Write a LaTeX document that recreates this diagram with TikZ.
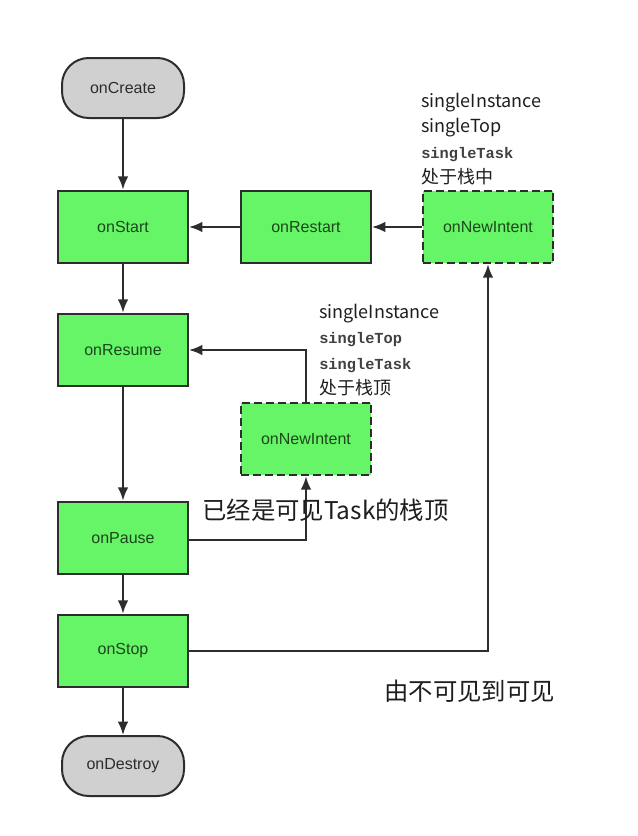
\documentclass[tikz,border=0pt]{standalone}
\usepackage{fontspec}
\setmainfont{Liberation Sans}
\newfontfamily\cjk{Noto Sans CJK SC}
\newfontfamily\monob{Liberation Mono}[BoldFont={* Bold}]
\usetikzlibrary{arrows.meta}
\definecolor{gfill}{RGB}{102,245,102}
\definecolor{gtext}{RGB}{28,70,28}
\definecolor{grayfill}{RGB}{208,208,208}
\definecolor{edge}{RGB}{45,45,45}
\definecolor{lbl}{RGB}{30,30,30}
\tikzset{
  box/.style={draw=edge, line width=1.5pt, fill=gfill, minimum width=97.5pt, minimum height=54.5pt, inner sep=0pt, text=gtext, font=\fontsize{12}{14}\selectfont},
  dbox/.style={box, dash pattern=on 6pt off 3pt},
  term/.style={draw=edge, line width=1.5pt, fill=grayfill, rounded corners=20pt, minimum width=91.5pt, minimum height=45pt, inner sep=0pt, text=edge, font=\fontsize{12}{14}\selectfont},
  conn/.style={draw=edge, line width=1.5pt, -{Latex[length=10pt,width=8pt]}},
  note/.style={align=left, inner sep=0pt, anchor=north west, text=lbl, font=\cjk\fontsize{13.5}{19}\selectfont},
  big/.style={inner sep=0pt, anchor=west, text=lbl, font=\cjk\fontsize{18.3}{20}\selectfont}
}
\newcommand{\mb}[1]{{\monob\bfseries\fontsize{11.5}{12}\selectfont\color{lbl!85}#1}}
\begin{document}
\begin{tikzpicture}[x=0.75pt,y=-0.75pt]
\useasboundingbox (0,0) rectangle (637,836);
\node[term] (create) at (123,88) {onCreate};
\node[box] (start) at (123,227) {onStart};
\node[box] (restart) at (306,227) {onRestart};
\node[dbox] (ni1) at (488,227) {onNewIntent};
\node[box] (resume) at (123,350) {onResume};
\node[dbox] (ni2) at (306,439) {onNewIntent};
\node[box] (pause) at (123,538) {onPause};
\node[box] (stop) at (123,651) {onStop};
\node[term] (destroy) at (123,766) {onDestroy};

\coordinate (c1) at (306,350);
\coordinate (c2) at (306,540);
\coordinate (c3) at (488,651);

\draw[conn] (create) -- (start);
\draw[conn] (start) -- (resume);
\draw[conn] (resume) -- (pause);
\draw[conn] (pause) -- (stop);
\draw[conn] (stop) -- (destroy);
\draw[conn] (restart) -- (start);
\draw[conn] (ni1) -- (restart);
\draw[conn] (ni2.north) -- (c1) -- (resume.east);
\draw[conn] (pause.east |- c2) -- (c2) -- (ni2.south);
\draw[conn] (stop.east) -- (c3) -- (ni1.south);

\node[note] (n1) at (421,93) {singleInstance\\ singleTop\\ \mb{singleTask}\\ 处于栈中};
\node[note] (n2) at (319,304) {singleInstance\\ \mb{singleTop}\\ \mb{singleTask}\\ 处于栈顶};
\node[big] (t1) at (202,510) {已经是可见Task的栈顶};
\node[big] (t2) at (384,691) {由不可见到可见};
\end{tikzpicture}
\end{document}
